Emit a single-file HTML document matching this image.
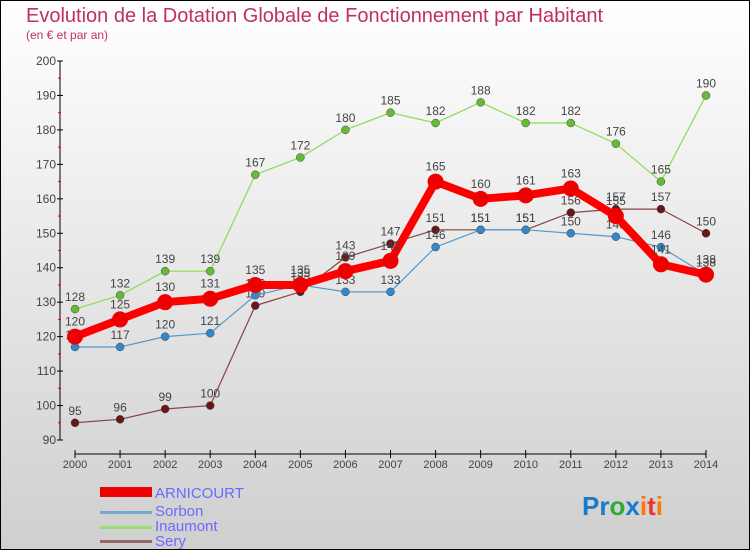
<!DOCTYPE html>
<html><head><meta charset="utf-8"><style>
body{margin:0}
#c{width:750px;height:550px;position:relative;box-sizing:border-box;border:1px solid #000;background:linear-gradient(#ffffff,#cfcfcf);font-family:"Liberation Sans",sans-serif;overflow:hidden}
</style></head><body>
<div id="c">
<svg id="s" width="750" height="550" style="position:absolute;left:-1px;top:-1px">
<text x="26" y="22" font-size="20" fill="#c0305a">Evolution de la Dotation Globale de Fonctionnement par Habitant</text>
<text x="26" y="39" font-size="12" fill="#c0305a">(en € et par an)</text>
<g id="ax"></g><g id="series"></g>
<g>
<rect x="100" y="487" width="52" height="10" fill="#ee0000"/>
<text x="155" y="498" font-size="15" fill="#6a6aff">ARNICOURT</text>
<rect x="100" y="511" width="52" height="3" fill="#7aa8cc"/>
<text x="155" y="516" font-size="15" fill="#6a6aff">Sorbon</text>
<rect x="100" y="526" width="52" height="3" fill="#99dd77"/>
<text x="155" y="531" font-size="15" fill="#6a6aff">Inaumont</text>
<rect x="100" y="540" width="52" height="3" fill="#996666"/>
<text x="155" y="546" font-size="15" fill="#6a6aff">Sery</text>
</g>
<text x="582" y="515" font-size="26" font-weight="bold"><tspan fill="#1a7acc">Pr</tspan><tspan fill="#33aa33">o</tspan><tspan fill="#1a7acc">x</tspan><tspan fill="#ff7700">i</tspan><tspan fill="#ee3333">t</tspan><tspan fill="#ff7700">i</tspan></text>
</svg>
</div>
<script>
const years=["2000","2001","2002","2003","2004","2005","2006","2007","2008","2009","2010","2011","2012","2013","2014"];
const yTicks=[90,100,110,120,130,140,150,160,170,180,190,200];
const arnicourt=[120,125,130,131,135,135,139,142,165,160,161,163,155,141,138];
const sorbon=[117,117,120,121,132,135,133,133,146,151,151,150,149,146,138];
const inaumont=[128,132,139,139,167,172,180,185,182,188,182,182,176,165,190];
const sery=[95,96,99,100,129,133,143,147,151,151,151,156,157,157,150];
const NS="http://www.w3.org/2000/svg";
function X(i){return 75+i*(706-75)/(years.length-1);}
function Y(v){return 440-(v-90)*(440-61)/110;}
function mk(t,a,p){const e=document.createElementNS(NS,t);for(const k in a)e.setAttribute(k,a[k]);p.appendChild(e);return e;}
const ax=document.getElementById('ax');
const yl=mk('line',{x1:60,y1:61,x2:60,y2:440,stroke:'#000'},ax);


const xl=mk('line',{x1:75,y1:454,x2:706,y2:454,stroke:'#000'},ax);


yTicks.forEach((v,i)=>{
  mk('line',{x1:57,y1:Y(v),x2:63,y2:Y(v),stroke:'#000'},ax);
  if(i<yTicks.length-1)mk('line',{x1:58,y1:Y(v+5),x2:61,y2:Y(v+5),stroke:'#e00'},ax);
  const t=mk('text',{x:56,y:Y(v)+4,'text-anchor':'end','font-size':12,fill:'#444'},ax);
  t.textContent=v;
  
  
});
years.forEach((y,i)=>{
  mk('line',{x1:X(i),y1:450,x2:X(i),y2:458,stroke:'#000'},ax);
  const t=mk('text',{x:X(i),y:468,'text-anchor':'middle','font-size':11,fill:'#444'},ax);
  t.textContent=y;
  
  
});
const g=document.getElementById('series');
const defs=[["inaumont",inaumont,'#88dd55','#66bb33',1.2,4],["sery",sery,'#884444','#661818',1.2,4],["sorbon",sorbon,'#5599cc','#3388cc',1.2,4],["arnicourt",arnicourt,'#ff0000','#ee0000',8,8]];
defs.forEach(([n,d,lc,pc,w,r])=>{
  const pl=mk('polyline',{points:d.map((v,i)=>X(i)+','+Y(v)).join(' '),fill:'none',stroke:lc,'stroke-width':w,'stroke-linejoin':'round'},g);
  
  
  d.forEach((v,i)=>{
    const c=mk('circle',{cx:X(i),cy:Y(v),r:r,fill:pc,stroke:n==='arnicourt'?'none':'#444','stroke-width':0.5},g);
    
    
    const t=mk('text',{x:X(i),y:Y(v)-(n==='arnicourt'?11:8),'text-anchor':'middle','font-size':12,fill:'#444'},g);
    t.textContent=v;
    
    
  });
});
</script>
</body></html>
